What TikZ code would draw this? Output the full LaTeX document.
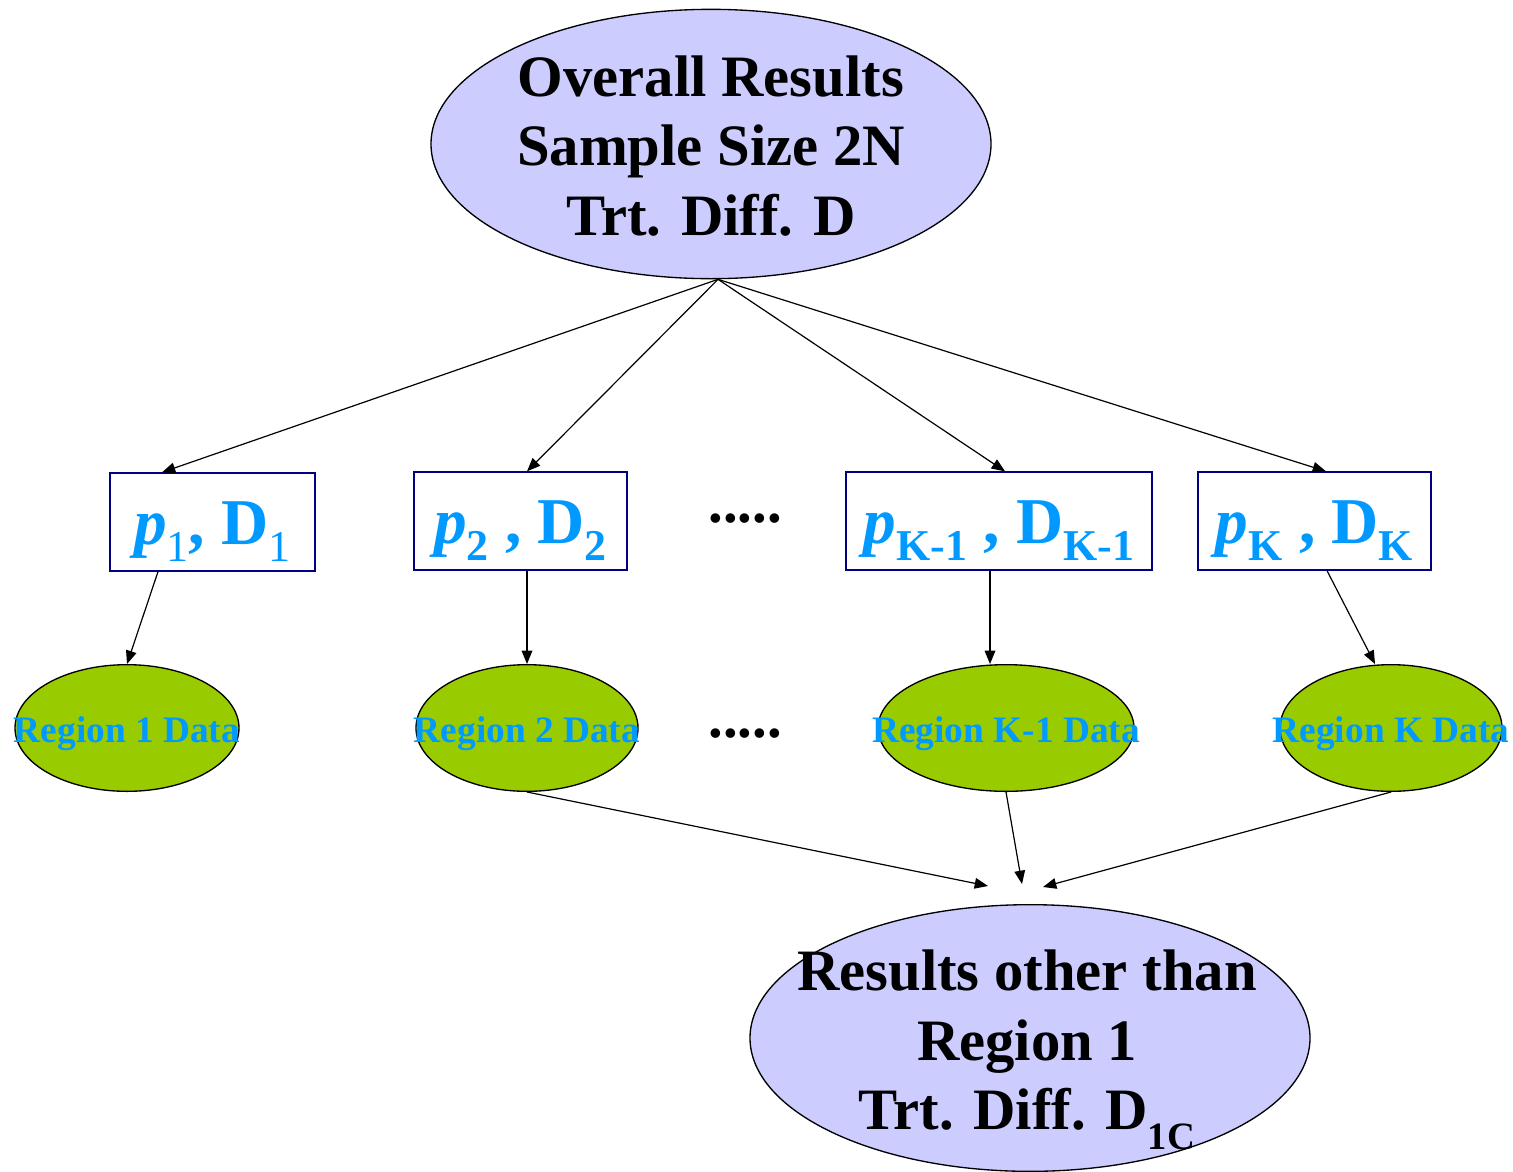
\documentclass[tikz,border=0pt]{standalone}
\usepackage{fontspec}
\setmainfont{Liberation Serif}
\usetikzlibrary{shapes.geometric,arrows.meta,calc}
\definecolor{lavender}{HTML}{CCCCFF}
\definecolor{leafgreen}{HTML}{99CC00}
\definecolor{skyblue}{HTML}{0099FF}
\definecolor{boxnavy}{HTML}{000080}
\tikzset{every picture/.style={line width=0.75pt}}
\tikzset{
  bigoval/.style={ellipse,draw=black,line width=1pt,fill=lavender,inner sep=0pt,minimum width=420pt,minimum height=202pt},
  regoval/.style={ellipse,draw=black,line width=1pt,fill=leafgreen,inner sep=0pt,minimum height=95pt},
  parbox/.style={rectangle,draw=boxnavy,line width=1pt,inner sep=0pt,minimum height=73.5pt,text height=40pt,text depth=7pt,font=\fontsize{49}{52}\selectfont\bfseries,text=skyblue},
  bigtext/.style={align=center,inner sep=0pt,font=\fontsize{44}{52}\selectfont\bfseries},
  regtext/.style={inner sep=0pt,font=\fontsize{28}{30}\selectfont\bfseries,text=skyblue},
  dotrow/.style={anchor=base,inner sep=0pt,font=\fontsize{44}{44}\selectfont\bfseries},
  flow/.style={-{Triangle[length=10pt,width=8pt]},line width=0.9pt}
}
\newcommand{\sbs}[1]{\raisebox{-13pt}{\fontsize{33}{33}\selectfont #1}}
\newcommand{\sbsmall}[1]{\raisebox{-15pt}{\fontsize{29}{29}\selectfont #1}}
\begin{document}
\begin{tikzpicture}[x=0.75pt,y=0.75pt,yscale=-1,xscale=1]
\useasboundingbox (0,0) rectangle (1513,1171);

%Shape: Ellipse [top]
\node[bigoval] (top) at (711,144) {};
% Text Node
\node[bigtext] (toptxt) at (711,146) {Overall Results\\Sample Size 2N\\Trt. Diff. D};

%Shape: Rectangles [parameters]
\node[parbox,minimum width=153.75pt] (b1) at (212.5,522) {\textit{p}\sbs{\mdseries 1}, D\sbs{\mdseries 1}};
\node[parbox,minimum width=159.75pt] (b2) at (520.5,521) {\textit{p}\sbs{2} , D\sbs{2}};
\node[parbox,minimum width=229.5pt] (b3) at (999,521) {\textit{p}\sbs{K-1} , D\sbs{K-1}};
\node[parbox,minimum width=174.75pt] (b4) at (1314.5,521) {\textit{p}\sbs{K} , D\sbs{K}};
% Text Node
\node[dotrow] (dots1) at (745,522) {.....};

%Shape: Ellipses [regions]
\node[regoval,minimum width=168pt] (r1) at (127,728) {};
\node[regoval,minimum width=166.5pt] (r2) at (527,728) {};
\node[regoval,minimum width=192pt] (r3) at (1006,728) {};
\node[regoval,minimum width=166.5pt] (r4) at (1391,728) {};
% Text Node
\node[regtext] (rt1) at (127,734) {Region 1 Data};
\node[regtext] (rt2) at (527,734) {Region 2 Data};
\node[regtext] (rt3) at (1006,734) {Region K-1 Data};
\node[regtext] (rt4) at (1391,734) {Region K Data};
\node[dotrow] (dots2) at (745,737) {.....};

%Shape: Ellipse [bottom]
\node[bigoval,minimum height=200pt] (bot) at (1030,1038) {};
% Text Node
\node[bigtext] (bottxt) at (1027,1050) {Results other than\\Region 1\\Trt. Diff. D\sbsmall{1C}};

%Straight Lines [arrows]
\draw[flow] ($(top.south)+(7,0)$) -- ($(b1.north)+(-50.5,0)$);
\draw[flow] ($(top.south)+(7,0)$) -- ($(b2.north)+(6.5,0)$);
\draw[flow] ($(top.south)+(7,0)$) -- ($(b3.north)+(6,0)$);
\draw[flow] ($(top.south)+(7,0)$) -- ($(b4.north)+(11.5,0)$);
\draw[flow] ($(b1.south)+(-54.5,0)$) -- (r1.north);
\draw[flow] ($(b2.south)+(6.5,0)$) -- (r2.north);
\draw[flow] ($(b3.south)+(-9,0)$) -- ($(r3.north)+(-16,0)$);
\draw[flow] ($(b4.south)+(12.5,0)$) -- ($(r4.north)+(-16,0)$);
\draw[flow] (r2.south) -- ($(bot.north)+(-42,-18)$);
\draw[flow] (r3.south) -- ($(bot.north)+(-8,-20)$);
\draw[flow] (r4.south) -- ($(bot.north)+(13,-17)$);

\end{tikzpicture}
\end{document}
